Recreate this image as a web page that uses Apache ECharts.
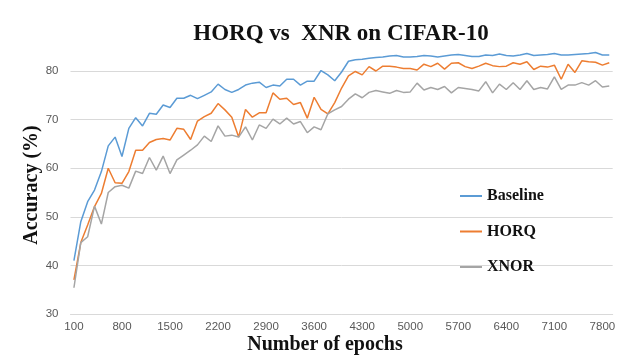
<!DOCTYPE html>
<html>
<head>
<meta charset="utf-8">
<script src="https://cdn.jsdelivr.net/npm/echarts@6/dist/echarts.min.js"></script>
<style>
html,body{margin:0;padding:0;background:#fff;}
#c{width:631px;height:358px;}
</style>
</head>
<body>
<div id="c"></div>
<script>
// epochs 100..7900 (category labels)
const epochs = ['100','200','300','400','500','600','700','800','900','1000',
'1100','1200','1300','1400','1500','1600','1700','1800','1900','2000',
'2100','2200','2300','2400','2500','2600','2700','2800','2900','3000',
'3100','3200','3300','3400','3500','3600','3700','3800','3900','4000',
'4100','4200','4300','4400','4500','4600','4700','4800','4900','5000',
'5100','5200','5300','5400','5500','5600','5700','5800','5900','6000',
'6100','6200','6300','6400','6500','6600','6700','6800','6900','7000',
'7100','7200','7300','7400','7500','7600','7700','7800','7900'];

const baseline = [41.0,49.0,53.1,55.5,59.3,64.6,66.4,62.4,68.2,70.4,
68.7,71.3,71.1,73.0,72.5,74.4,74.4,75.0,74.3,75.0,
75.7,77.3,76.2,75.6,76.2,77.1,77.5,77.7,76.6,77.1,
76.9,78.3,78.3,77.1,77.9,77.9,80.1,79.2,78.0,79.8,
82.0,82.3,82.4,82.6,82.8,82.9,83.1,83.2,82.9,82.9,
83.0,83.2,83.1,82.9,83.1,83.3,83.4,83.2,83.0,83.0,
83.3,83.2,83.5,83.2,83.1,83.3,83.6,83.2,83.3,83.4,
83.6,83.3,83.3,83.4,83.5,83.6,83.8,83.3,83.3];

const horq = [37.0,44.7,48.3,52.1,54.8,60.0,57.0,56.9,59.3,63.7,
63.7,65.3,65.9,66.1,65.8,68.2,68.0,65.9,69.7,70.6,
71.3,73.3,72.0,70.5,66.4,72.1,70.5,71.4,71.4,75.5,
74.2,74.4,73.1,73.5,70.3,74.6,72.1,71.2,73.5,76.5,
79.0,79.9,79.2,80.9,80.0,81.0,81.0,80.8,80.5,80.5,
80.2,81.4,80.9,81.6,80.4,81.6,81.7,80.9,80.5,81.0,
81.6,81.1,80.9,81.0,81.7,81.4,81.9,80.3,81.0,80.8,
81.2,78.3,81.4,79.7,82.1,81.9,81.8,81.2,81.7];

const xnor = [35.4,44.7,45.9,52.2,48.5,55.0,56.2,56.5,55.9,59.4,
58.9,62.2,59.6,62.5,58.9,61.7,62.7,63.7,64.8,66.6,
65.5,68.7,66.6,66.8,66.4,68.5,65.8,68.9,68.2,70.1,
69.1,70.3,69.1,69.6,67.3,68.5,67.9,71.2,72.0,72.7,
74.2,75.3,74.5,75.6,76.0,75.7,75.4,76.0,75.6,75.7,
77.5,76.1,76.6,76.2,76.8,75.5,76.6,76.4,76.2,75.9,
77.8,75.5,77.3,76.2,77.6,76.2,78.0,76.2,76.6,76.3,
78.8,76.2,77.1,77.1,77.6,77.1,78.0,76.7,76.9];

const seriesNames = ['Baseline','HORQ','XNOR'];
const colors = ['#5B9BD5','#ED7D31','#A5A5A5'];

const chart = echarts.init(document.getElementById('c'), null, {renderer:'canvas'});
const serif = '"Liberation Serif","Times New Roman",serif';
const sans = '"Liberation Sans",Arial,sans-serif';

function mk(name, data, color){
  return {name, type:'line', data, symbol:'none', showSymbol:false,
    lineStyle:{width:1.5, color}, itemStyle:{color}, animation:false};
}

chart.setOption({
  backgroundColor:'#fff',
  animation:false,
  title:{text:'HORQ vs  XNR on CIFAR-10', left:336, top:18, textAlign:'center',
    textStyle:{fontFamily:serif, fontWeight:'bold', fontSize:23, color:'#111'}},
  grid:{left:70.5, right:18.3, top:46.7, bottom:44},
  legend:{orient:'vertical', left:455, top:183, itemWidth:22, itemHeight:2, itemGap:19.5,
    icon:'rect',
    data:seriesNames,
    textStyle:{fontFamily:serif, fontWeight:'bold', fontSize:16, lineHeight:16, color:'#111'}},
  xAxis:{type:'category', data:epochs, boundaryGap:true,
    axisTick:{show:false},
    axisLine:{lineStyle:{color:'#d9d9d9', width:1}},
    axisLabel:{interval:6, margin:7, fontFamily:sans, fontSize:11.5, color:'#595959'},
    splitLine:{show:false}},
  yAxis:{type:'value', min:30, max:85, interval:10,
    axisLine:{show:false}, axisTick:{show:false},
    axisLabel:{showMaxLabel:false, margin:12, fontFamily:sans, fontSize:11.5, color:'#595959'},
    splitLine:{showMaxLine:false, lineStyle:{color:'#d9d9d9', width:1}}},
  graphic:[
    {type:'text', x:325, y:345, style:{text:'Number of epochs', font:'bold 20px '+serif,
      fill:'#111', textAlign:'center', textVerticalAlign:'middle'}},
    {type:'text', x:32, y:185, rotation:Math.PI/2, style:{text:'Accuracy (%)', font:'bold 20px '+serif,
      fill:'#111', textAlign:'center', textVerticalAlign:'middle'}}
  ],
  series:[mk(seriesNames[0], baseline, colors[0]), mk(seriesNames[1], horq, colors[1]), mk(seriesNames[2], xnor, colors[2])]
});
</script>
</body>
</html>
